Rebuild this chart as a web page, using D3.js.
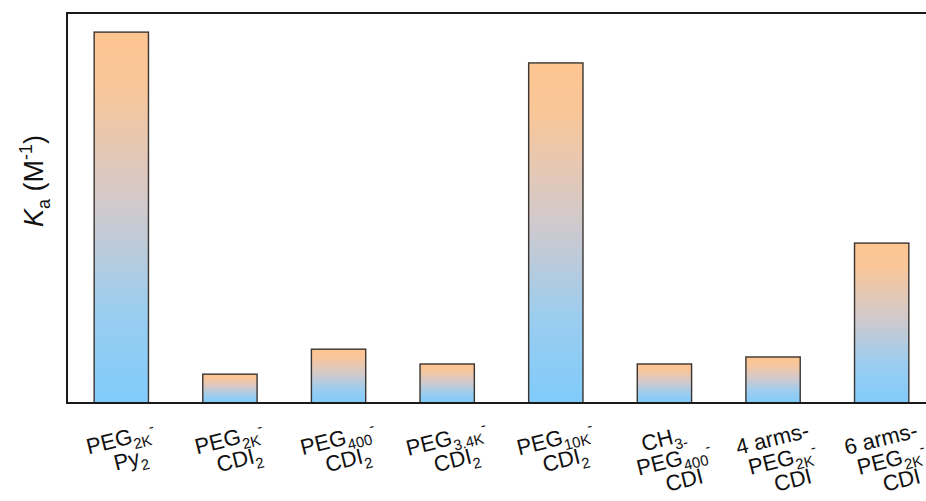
<!DOCTYPE html>
<html>
<head>
<meta charset="utf-8">
<script src="https://cdn.jsdelivr.net/npm/d3@7"></script>
<style>
  html, body { margin: 0; padding: 0; background: #fff; }
  svg { display: block; font-family: "Liberation Sans", Arial, sans-serif; }
</style>
</head>
<body>
<svg id="chart" width="926" height="501"></svg>
<script>
// Binding constants (relative units) for each PEG conjugate
const categories = [
  "PEG2K-Py2", "PEG2K-CDI2", "PEG400-CDI2", "PEG3.4K-CDI2",
  "PEG10K-CDI2", "CH3-PEG400-CDI", "4 arms-PEG2k-CDI", "6 arms-PEG2k-CDI"
];
const values = [9.51, 0.74, 1.38, 1.0, 8.72, 1.0, 1.18, 4.1];
const yDomain = [0, 10];

// Tick label markup: lines of [text, style] where style is n / sub / sup
const tickLabels = [
  [[["PEG", "n"], ["2K", "sub"], ["-", "sup"]], [["Py", "n"], ["2", "sub"]]],
  [[["PEG", "n"], ["2K", "sub"], ["-", "sup"]], [["CDI", "n"], ["2", "sub"]]],
  [[["PEG", "n"], ["400", "sub"], ["-", "sup"]], [["CDI", "n"], ["2", "sub"]]],
  [[["PEG", "n"], ["3.4K", "sub"], ["-", "sup"]], [["CDI", "n"], ["2", "sub"]]],
  [[["PEG", "n"], ["10K", "sub"], ["-", "sup"]], [["CDI", "n"], ["2", "sub"]]],
  [[["CH", "n"], ["3-", "sub"]], [["PEG", "n"], ["400", "sub"], ["-", "sup"]], [["CDI", "n"]]],
  [[["4 arms-", "n"]], [["PEG", "n"], ["2K", "sub"], ["-", "sup"]], [["CDI", "n"]]],
  [[["6 arms-", "n"]], [["PEG", "n"], ["2K", "sub"], ["-", "sup"]], [["CDI", "n"]]]
];

const svg = d3.select("#chart");
const plot = { left: 67, top: 13, right: 936, bottom: 403 };

const x = d3.scaleBand()
  .domain(categories)
  .range([plot.left, plot.right])
  .paddingInner(0.5)
  .paddingOuter(0.25);

const y = d3.scaleLinear()
  .domain(yDomain)
  .range([plot.bottom, plot.top]);

// Vertical orange-to-blue fill, stretched over each bar
const defs = svg.append("defs");
const grad = defs.append("linearGradient")
  .attr("id", "barFill")
  .attr("x1", 0).attr("y1", 0).attr("x2", 0).attr("y2", 1);
[
  [0, "#fdc591"], [0.15, "#f9c699"], [0.45, "#d4c9ca"],
  [0.75, "#9bcdef"], [1, "#80cbfb"]
].forEach(([o, c]) => grad.append("stop").attr("offset", o).attr("stop-color", c));

// Bars
svg.append("g")
  .selectAll("rect")
  .data(categories)
  .join("rect")
  .attr("x", d => x(d))
  .attr("width", x.bandwidth())
  .attr("y", (d, i) => y(values[i]))
  .attr("height", (d, i) => y(0) - y(values[i]))
  .attr("fill", "url(#barFill)")
  .attr("stroke", "#3a3430")
  .attr("stroke-width", 1.4);

// Frame: left, top and bottom edges
svg.append("path")
  .attr("d", `M${plot.right},${plot.top}H${plot.left}V${plot.bottom}H${plot.right}`)
  .attr("fill", "none")
  .attr("stroke", "#1a1a1a")
  .attr("stroke-width", 2);

// Writes segments of a rich line into a text element
function richLine(text, segs, fs) {
  let cur = 0;
  segs.forEach(([t, kind]) => {
    const target = kind === "sub" ? 0.28 * fs : kind === "sup" ? -0.3 * fs : 0;
    text.append("tspan")
      .attr("dy", target - cur)
      .attr("font-size", kind === "n" ? fs : fs * 0.68)
      .text(t);
    cur = target;
  });
}

// Rotated category labels
const labelFs = 22;
const labelG = svg.append("g");
categories.forEach((c, i) => {
  const g = labelG.append("g")
    .attr("transform", `translate(${x(c) + x.bandwidth() / 2 + 1},${446}) rotate(-14)`);
  tickLabels[i].forEach((line, j) => {
    const t = g.append("text")
      .attr("x", j * 5)
      .attr("y", j * 22.5)
      .attr("text-anchor", "middle")
      .attr("fill", "#111")
      .attr("font-size", labelFs);
    richLine(t, line, labelFs);
  });
});

// Y axis title: Ka (M^-1)
const yt = svg.append("text")
  .attr("transform", "translate(43,181) rotate(-90)")
  .attr("text-anchor", "middle")
  .attr("fill", "#111")
  .attr("font-size", 27);
yt.append("tspan").attr("font-style", "italic").text("K");
yt.append("tspan").attr("font-size", 18).attr("dy", 7).text("a");
yt.append("tspan").attr("dy", -7).text(" (M");
yt.append("tspan").attr("font-size", 18).attr("dy", -11).text("-1");
yt.append("tspan").attr("dy", 11).text(")");
</script>
</body>
</html>
